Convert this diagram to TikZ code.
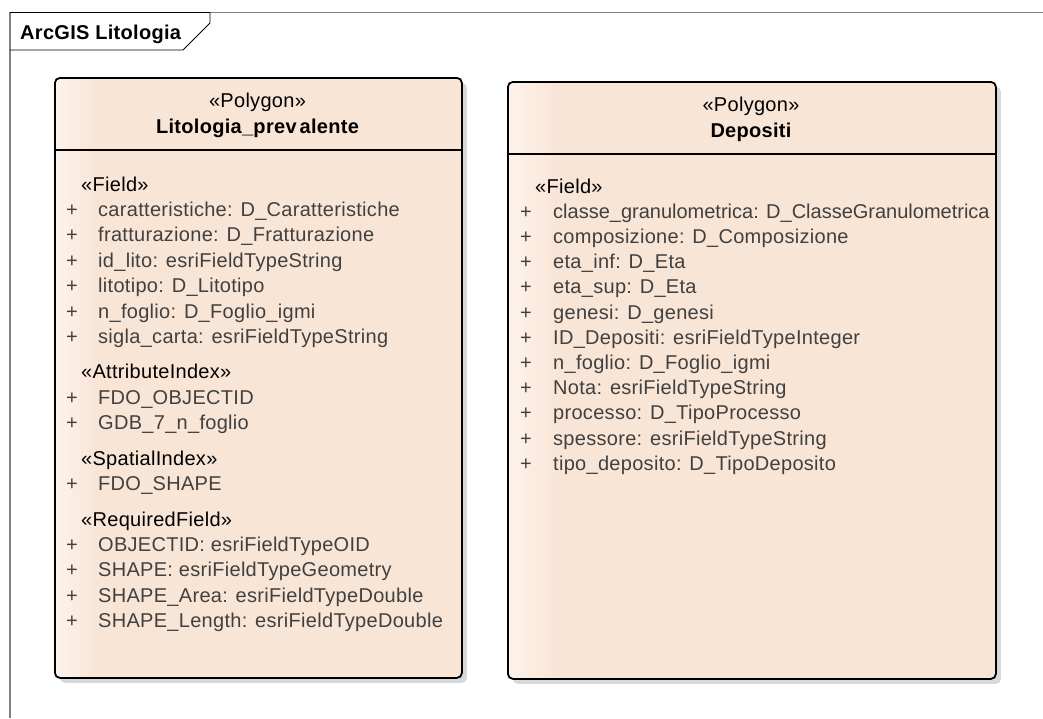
\documentclass[tikz,border=0pt]{standalone}
\usepackage{fontspec}
\setmainfont{Liberation Sans}[LetterSpace=1.5]
\usetikzlibrary{shadows}
\definecolor{peach}{RGB}{249,229,214}
\definecolor{peachlight}{RGB}{253,243,236}
\definecolor{itemgray}{RGB}{64,64,64}
\definecolor{framegray}{RGB}{128,128,128}
\definecolor{shadowgray}{RGB}{216,216,216}
\pgfdeclarehorizontalshading{boxshade}{100bp}{color(0bp)=(peachlight); color(25bp)=(peachlight); color(30bp)=(peach); color(100bp)=(peach)}
\begin{document}
\begin{tikzpicture}[x=1pt,y=-1pt,
  classbox/.style={draw=black, line width=1.8pt, rounded corners=5pt, shading=boxshade,
    drop shadow={shadow xshift=5pt, shadow yshift=-5pt, fill=shadowgray, opacity=1},
    inner sep=0pt, anchor=north west},
  sepline/.style={draw=black, line width=1.3pt},
  txt/.style={inner sep=0pt, anchor=base west, font=\fontsize{20pt}{24pt}\selectfont},
  boldtxt/.style={font=\fontsize{20pt}{24pt}\selectfont\bfseries},
  headtxt/.style={txt, anchor=base, text=black},
  sectxt/.style={txt, text=black},
  itemtxt/.style={txt, text=itemgray}]
\useasboundingbox (0,0) rectangle (1043,718);
% frame
\draw[framegray, line width=1.4pt] (10,718) -- (10,12.5) -- (1043,12.5);
\draw[black, line width=0.9pt] (10,12.5) -- (210,12.5) -- (210,23) -- (183,50) -- (10,50);
\node[txt, boldtxt] (title) at (20,39) {ArcGIS Litologia};
% left class
\node[classbox, minimum width=407pt, minimum height=600pt] (lbox) at (54,77) {};
\draw[sepline] (lbox.west |- 0,150) -- (lbox.east |- 0,150);
\node[headtxt] (lst) at (257.5,107) {«Polygon»};
\node[headtxt, boldtxt] (lname) at (257.5,133) {Litologia\_prev\hspace{3pt}alente};
\foreach \y/\t [count=\i] in {184/«Field», 371.9/«AttributeIndex», 458.2/«SpatialIndex», 519.1/«RequiredField»}
  \node[sectxt] (ls\i) at (81,\y+7) {\t};
\foreach \y/\t [count=\i] in {
  209.4/caratteristiche: D\_Caratteristiche,
  234.8/fratturazione: D\_Fratturazione,
  260.2/id\_lito: esriFieldTypeString,
  285.6/litotipo: D\_Litotipo,
  311.0/n\_foglio: D\_Foglio\_igmi,
  336.4/sigla\_carta: esriFieldTypeString,
  397.3/FDO\_OBJECTID,
  422.7/GDB\_7\_n\_foglio,
  483.6/FDO\_SHAPE,
  544.5/OBJECTID: esriFieldTypeOID,
  569.9/SHAPE: esriFieldTypeGeometry,
  595.3/SHAPE\_Area: esriFieldTypeDouble,
  620.7/SHAPE\_Length: esriFieldTypeDouble}{
  \node[itemtxt] (lp\i) at (66,\y+7) {+};
  \node[itemtxt] (li\i) at (98,\y+7) {\t};
}
% right class
\node[classbox, minimum width=488pt, minimum height=597pt] (rbox) at (507,81) {};
\draw[sepline] (rbox.west |- 0,154) -- (rbox.east |- 0,154);
\node[headtxt] (rst) at (751,111) {«Polygon»};
\node[headtxt, boldtxt] (rname) at (751,137) {Depositi};
\node[sectxt] (rs1) at (535,186+7) {«Field»};
\foreach \t [count=\i] in {
  {\addfontfeature{LetterSpace=0}classe\_granulometrica: D\_ClasseGranulometrica},
  composizione: D\_Composizione,
  eta\_inf: D\_Eta,
  eta\_sup: D\_Eta,
  genesi: D\_genesi,
  ID\_Depositi: esriFieldTypeInteger,
  n\_foglio: D\_Foglio\_igmi,
  Nota: esriFieldTypeString,
  processo: D\_TipoProcesso,
  spessore: esriFieldTypeString,
  tipo\_deposito: D\_TipoDeposito}{
  \node[itemtxt] (rp\i) at (520,186+25.2*\i+7) {+};
  \node[itemtxt] (ri\i) at (553,186+25.2*\i+7) {\t};
}
\end{tikzpicture}
\end{document}
